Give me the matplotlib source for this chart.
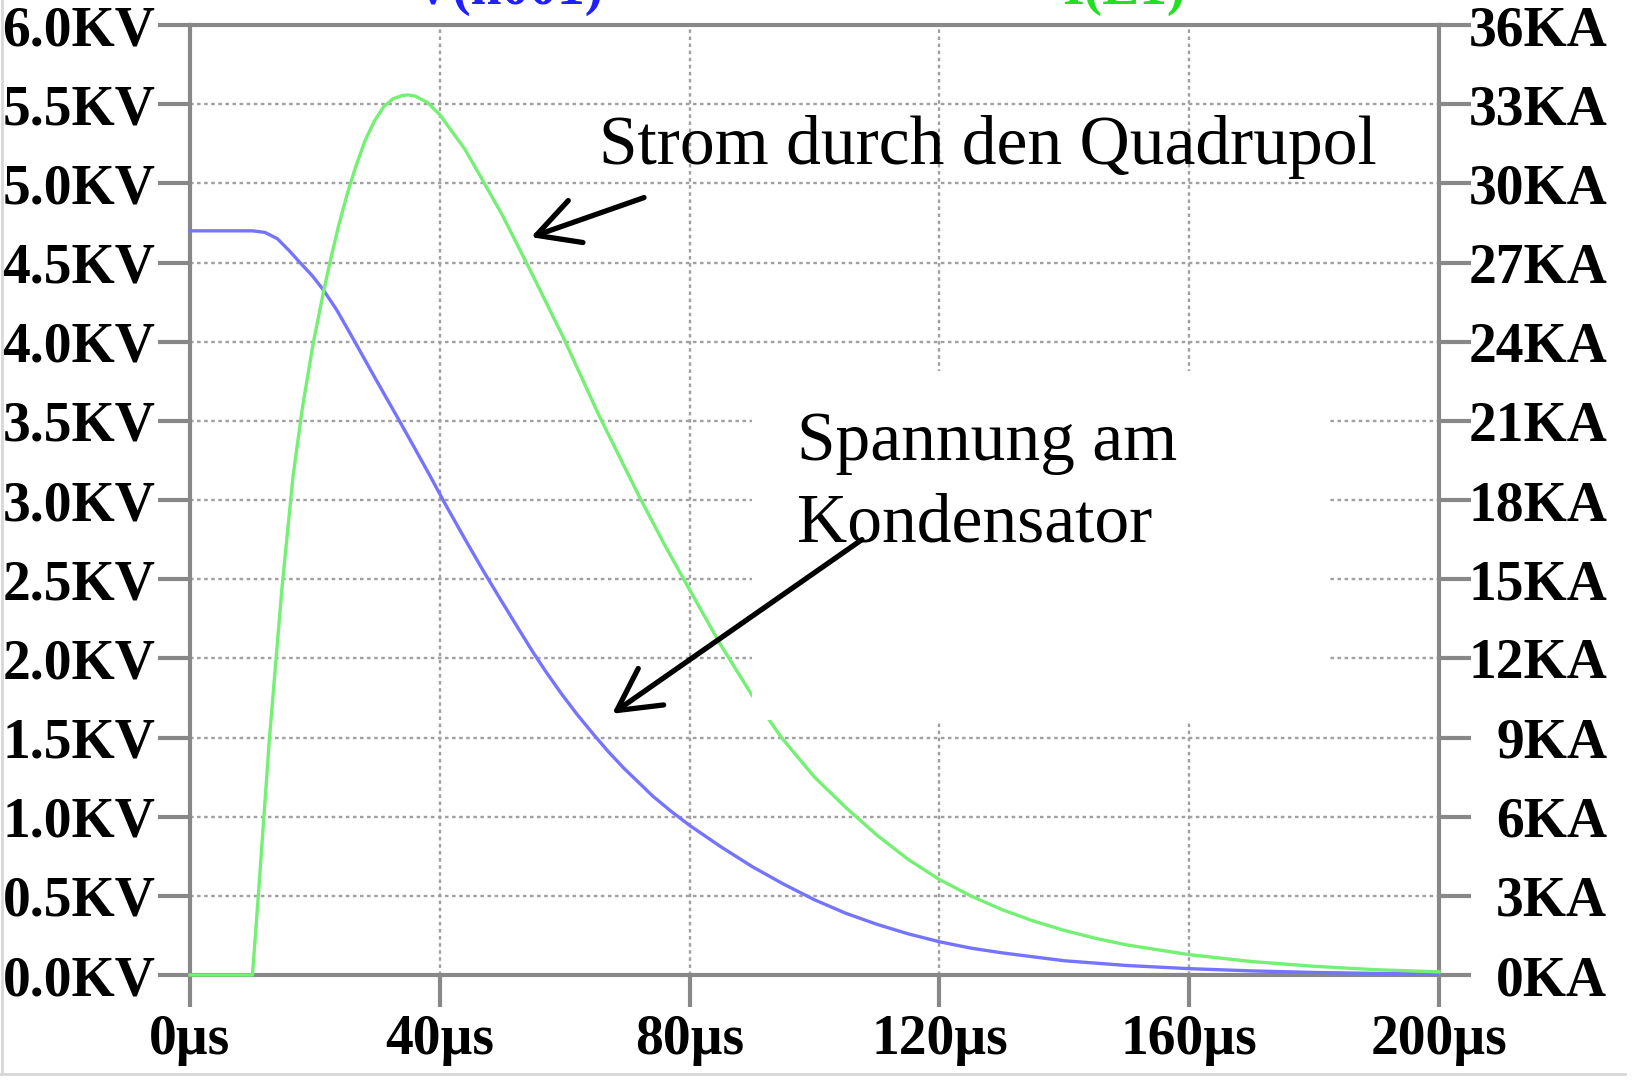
import matplotlib.pyplot as plt
from matplotlib.patches import Rectangle
from matplotlib.lines import Line2D

plt.rcParams["font.family"] = ["Liberation Serif", "DejaVu Serif"]

# Zeit in µs, Spannung am Kondensator in kV
t_v = [0, 10, 12, 14, 16, 17.6, 19.5, 21.3, 23.5, 26.1, 29.5, 33.1, 35.8, 38.4, 41, 44, 47, 49.6,
       52, 54.9, 57, 59.5, 62, 64.5, 67, 69.5, 72, 74.1, 77, 80, 85, 90, 95, 100, 105, 110, 115,
       120, 125, 130, 140, 150, 160, 170, 180, 190, 200]
v_kv = [4.70, 4.70, 4.69, 4.65, 4.57, 4.50, 4.42, 4.33, 4.20, 4.02, 3.78, 3.53, 3.34, 3.155, 2.965,
        2.755, 2.55, 2.38, 2.225, 2.04, 1.915, 1.775, 1.645, 1.525, 1.41, 1.305, 1.21, 1.13, 1.035,
        0.945, 0.81, 0.685, 0.575, 0.475, 0.39, 0.32, 0.26, 0.21, 0.17, 0.14, 0.090, 0.060, 0.040,
        0.026, 0.016, 0.010, 0.006]

# Strom durch den Quadrupol in kA
t_i = [0, 10, 11, 12.7, 14.7, 16.5, 18, 19.7, 21.3, 22.4, 23.8, 25.3, 26.5, 28, 29.5, 31, 32.5,
       34, 34.9, 36, 38, 40, 42, 44, 46.3, 50, 54.7, 59.7, 65.5, 72, 76, 80, 85, 90, 94.7, 100,
       105, 110, 115, 120, 125, 130, 135, 140, 145, 150, 160, 170, 180, 190, 200]
i_ka = [0, 0, 3.2, 8.9, 14.6, 18.9, 21.5, 23.9, 25.8, 27.0, 28.4, 29.7, 30.6, 31.6, 32.35, 32.9,
        33.2, 33.33, 33.35, 33.31, 33.07, 32.6, 31.95, 31.3, 30.35, 28.8, 26.6, 24.2, 21.2, 18.1,
        16.3, 14.6, 12.5, 10.6, 9.0, 7.5, 6.35, 5.3, 4.38, 3.62, 3.0, 2.48, 2.05, 1.69, 1.39, 1.14,
        0.77, 0.51, 0.33, 0.20, 0.12]

x_ticks = [0, 40, 80, 120, 160, 200]
x_labels = [f"{x}µs" for x in x_ticks]
v_ticks = [k * 0.5 for k in range(13)]
v_labels = [f"{v:.1f}KV" for v in v_ticks]
i_ticks = list(range(0, 37, 3))
i_labels = [f"{i}KA" for i in i_ticks]

spine_col = "#888888"

fig = plt.figure(figsize=(16.33, 10.8), dpi=100)
ax = fig.add_axes([190 / 1633, 1 - 975 / 1080, (1439 - 190) / 1633, (975 - 25) / 1080])
ax2 = ax.twinx()

ax.plot(t_v, v_kv, color="#7474ff", lw=2.4, clip_on=False, zorder=3)
ax2.plot(t_i, i_ka, color="#74f074", lw=2.4, clip_on=False, zorder=3)

ax.set_xlim(0, 200)
ax.set_ylim(0, 6)
ax2.set_ylim(0, 36)

ax.set_xticks(x_ticks, x_labels, fontsize=40, fontweight="bold")
ax.set_yticks(v_ticks, v_labels, fontsize=40, fontweight="bold")
ax2.set_yticks(i_ticks, i_labels, fontsize=40, fontweight="bold")

ax.grid(True, color="#a0a0a0", linestyle=(0, (1.5, 1.5)), lw=1.7)
ax.set_axisbelow(True)

for s in ax.spines.values():
    s.set_color(spine_col)
    s.set_linewidth(3)
for s in ax2.spines.values():
    s.set_visible(False)

ax.tick_params(axis="x", direction="out", length=23, width=3, color=spine_col, pad=5)
ax.tick_params(axis="y", direction="out", length=23, width=3, color=spine_col, pad=2)
ax2.tick_params(axis="y", direction="out", length=23, width=3, color=spine_col, pad=98)
for lbl in ax2.get_yticklabels():
    lbl.set_ha("right")

# weißer Hintergrund hinter der Beschriftung
ax2.add_patch(Rectangle((90, 1.613), 92.2, 2.2, transform=ax.transData,
                        facecolor="white", edgecolor="none", zorder=3.5))

ax2.text(65.5, 5.12, "Strom durch den Quadrupol", transform=ax.transData,
         fontsize=50, va="baseline", zorder=5)
ax2.text(97.2, 3.25, "Spannung am", transform=ax.transData,
         fontsize=50, va="baseline", zorder=5)
ax2.text(97.2, 2.74, "Kondensator", transform=ax.transData,
         fontsize=50, va="baseline", zorder=5)

arrow = dict(arrowstyle="->,head_length=0.75,head_width=0.4", lw=3.8, color="black",
             mutation_scale=40, shrinkA=0, shrinkB=0)
ax2.annotate("", xy=(54.6, 4.66), xytext=(72.7, 4.91), xycoords=ax.transData,
             textcoords=ax.transData, arrowprops=arrow, zorder=5)
ax2.annotate("", xy=(67.6, 1.65), xytext=(107.6, 2.75), xycoords=ax.transData,
             textcoords=ax.transData, arrowprops=arrow, zorder=5)

# abgeschnittene Legende oben
fig.text(508 / 1633, 1076 / 1080, "V(n001)", color="#2020ff", fontsize=40,
         fontweight="bold", ha="center", va="baseline")
fig.text(1124 / 1633, 1076 / 1080, "I(L1)", color="#20e020", fontsize=40,
         fontweight="bold", ha="center", va="baseline")

# Bildrand
fig.add_artist(Line2D([0.0015, 0.0015], [1 - 1074 / 1080, 1], transform=fig.transFigure,
                      color="#d8d8d8", lw=2))
fig.add_artist(Line2D([0, 1625 / 1633], [1 - 1074 / 1080] * 2, transform=fig.transFigure,
                      color="#d8d8d8", lw=2))

fig.savefig("out.png", dpi=100)
